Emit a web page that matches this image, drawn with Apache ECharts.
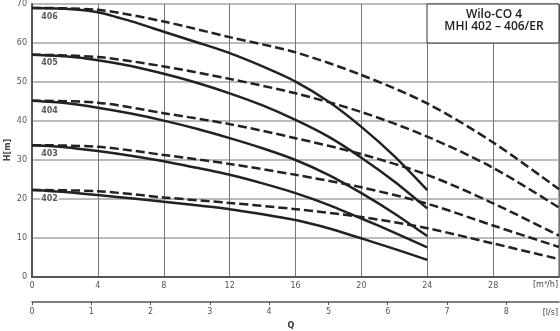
<!DOCTYPE html>
<html><head><meta charset="utf-8">
<script src="https://cdn.jsdelivr.net/npm/echarts@6/dist/echarts.min.js"></script>
<style>html,body{margin:0;padding:0;background:#fff}#c{width:560px;height:331px}</style>
</head><body><div id="c"></div>
<script>
// Flow (m³/h) for the solid and dashed curves
const qSolid = [0, 2, 4, 6, 8, 10, 12, 14, 16, 18, 20, 22, 24];
const qDashed = [0, 4, 8, 12, 16, 20, 24, 28, 32];
// Head H [m] – solid curves
const s402 = [22.3, 21.8, 21.0, 20.2, 19.3, 18.4, 17.4, 16.1, 14.6, 12.5, 9.9, 7.2, 4.4];
const s403 = [33.8, 33.3, 32.3, 31.1, 29.7, 28.0, 26.2, 24.0, 21.5, 18.5, 15.0, 11.4, 7.6];
const s404 = [45.2, 44.6, 43.4, 41.9, 40.1, 38.0, 35.6, 33.0, 30.0, 26.2, 21.5, 16.3, 10.5];
const s405 = [57.0, 56.6, 55.6, 54.1, 52.1, 49.8, 47.1, 44.0, 40.3, 36.0, 30.6, 24.5, 17.6];
const s406 = [69.0, 68.8, 67.9, 65.6, 62.9, 60.2, 57.4, 54.0, 50.1, 45.0, 38.5, 31.0, 22.3];
// Head H [m] – dashed curves
const d402 = [22.3, 22.0, 20.4, 19.0, 17.4, 15.4, 12.5, 8.6, 4.6];
const d403 = [33.8, 33.4, 31.3, 29.0, 26.2, 23.0, 18.8, 13.2, 7.7];
const d404 = [45.2, 44.7, 42.0, 39.2, 35.6, 31.5, 26.2, 18.9, 10.6];
const d405 = [57.0, 56.4, 54.0, 50.8, 47.1, 42.3, 36.0, 28.0, 17.8];
const d406 = [69.0, 68.5, 65.5, 61.5, 57.6, 51.8, 44.5, 34.5, 22.5];
// Curve labels and their anchor points (Q, H)
const curveNames = ['406', '405', '404', '403', '402'];
const labelQ = [0.5, 0.5, 0.5, 0.5, 0.5];
const labelH = [66.8, 54.8, 42.6, 31.5, 20.0];
// Axis ticks
const yTicks = [0, 10, 20, 30, 40, 50, 60, 70];
const titleLines = ['Wilo-CO 4', 'MHI 402 – 406/ER'];

const zip = (xs, ys) => xs.map((x, i) => [x, ys[i]]);
const lineCol = '#222';
const solidSeries = [s402, s403, s404, s405, s406].map(v => ({
  type: 'line', xAxisIndex: 0, data: zip(qSolid, v), smooth: 0.25, symbol: 'none',
  lineStyle: { color: lineCol, width: 2.5 }, z: 3
}));
const dashedSeries = [d402, d403, d404, d405, d406].map(v => ({
  type: 'line', xAxisIndex: 0, data: zip(qDashed, v), smooth: 0.3, symbol: 'none',
  lineStyle: { color: lineCol, width: 2.5, type: [9, 4] }, z: 3
}));
const labelSeries = {
  type: 'scatter', xAxisIndex: 0, symbolSize: 0, z: 5,
  data: curveNames.map((n, i) => ({ value: [labelQ[i], labelH[i]], name: n })),
  label: { show: true, position: 'right', distance: 0, formatter: p => p.name,
    fontFamily: 'DejaVu Sans', fontSize: 8, fontWeight: 'bold', color: '#333',
    backgroundColor: '#fff', padding: [0, 1] }
};

const chart = echarts.init(document.getElementById('c'), null, { renderer: 'canvas' });
chart.setOption({
  animation: false,
  grid: { left: 32, right: 1, top: 4, bottom: 54, containLabel: false, outerBoundsMode: 'none',
    show: true, borderColor: '#444', borderWidth: 1, backgroundColor: 'transparent' },
  xAxis: [
    { type: 'value', min: 0, max: 32, interval: 4, position: 'bottom',
      axisLine: { show: true, lineStyle: { color: '#555', width: 2 } },
      axisTick: { show: false },
      axisLabel: { fontFamily: 'DejaVu Sans', fontSize: 8, color: '#555', margin: 5,
        formatter: v => (v === 32 ? '' : String(v)) },
      splitLine: { show: true, lineStyle: { color: '#777', width: 1 } } },
    { type: 'value', min: 0, max: 32 / 3.6, interval: 1, position: 'bottom', offset: 25,
      axisLine: { show: true, onZero: false, lineStyle: { color: '#555', width: 1.5 } },
      axisTick: { show: true, length: 3, lineStyle: { color: '#555' } },
      axisLabel: { fontFamily: 'DejaVu Sans', fontSize: 8, color: '#555', margin: 6,
        showMaxLabel: false, formatter: v => String(Math.round(v)) },
      splitLine: { show: false } }
  ],
  yAxis: { type: 'value', min: yTicks[0], max: yTicks[yTicks.length - 1], interval: 10,
    axisLine: { show: true, lineStyle: { color: '#555', width: 2 } },
    axisTick: { show: false },
    axisLabel: { fontFamily: 'DejaVu Sans', fontSize: 8, color: '#555', margin: 5 },
    splitLine: { show: true, lineStyle: { color: '#bbb', width: 2 } } },
  series: [...dashedSeries, ...solidSeries, labelSeries],
  graphic: [
    { type: 'rect', z: 100, shape: { x: 427, y: 4, width: 132, height: 39 },
      style: { fill: '#fff', stroke: '#333', lineWidth: 1 } },
    { type: 'text', z: 101, style: { text: titleLines[0], x: 494, y: 15, align: 'center', verticalAlign: 'middle',
      font: '600 12px "Open Sans"', fill: '#222' } },
    { type: 'text', z: 101, style: { text: titleLines[1], x: 494, y: 27, align: 'center', verticalAlign: 'middle',
      font: '600 12px "Open Sans"', fill: '#222' } },
    { type: 'text', z: 101, style: { text: '[m³/h]', x: 558, y: 285, align: 'right', verticalAlign: 'middle',
      font: '8px "DejaVu Sans"', fill: '#444' } },
    { type: 'text', z: 101, style: { text: '[l/s]', x: 558, y: 313, align: 'right', verticalAlign: 'middle',
      font: '8px "DejaVu Sans"', fill: '#444' } },
    { type: 'text', z: 101, style: { text: 'Q', x: 291, y: 326, align: 'center', verticalAlign: 'middle',
      font: 'bold 8px "DejaVu Sans"', fill: '#333' } },
    { type: 'text', z: 101, x: 8, y: 150, rotation: Math.PI / 2,
      style: { text: 'H[m]', x: 0, y: 0, align: 'center', verticalAlign: 'middle',
      font: 'bold 8px "DejaVu Sans"', fill: '#444' } }
  ]
});
</script></body></html>
